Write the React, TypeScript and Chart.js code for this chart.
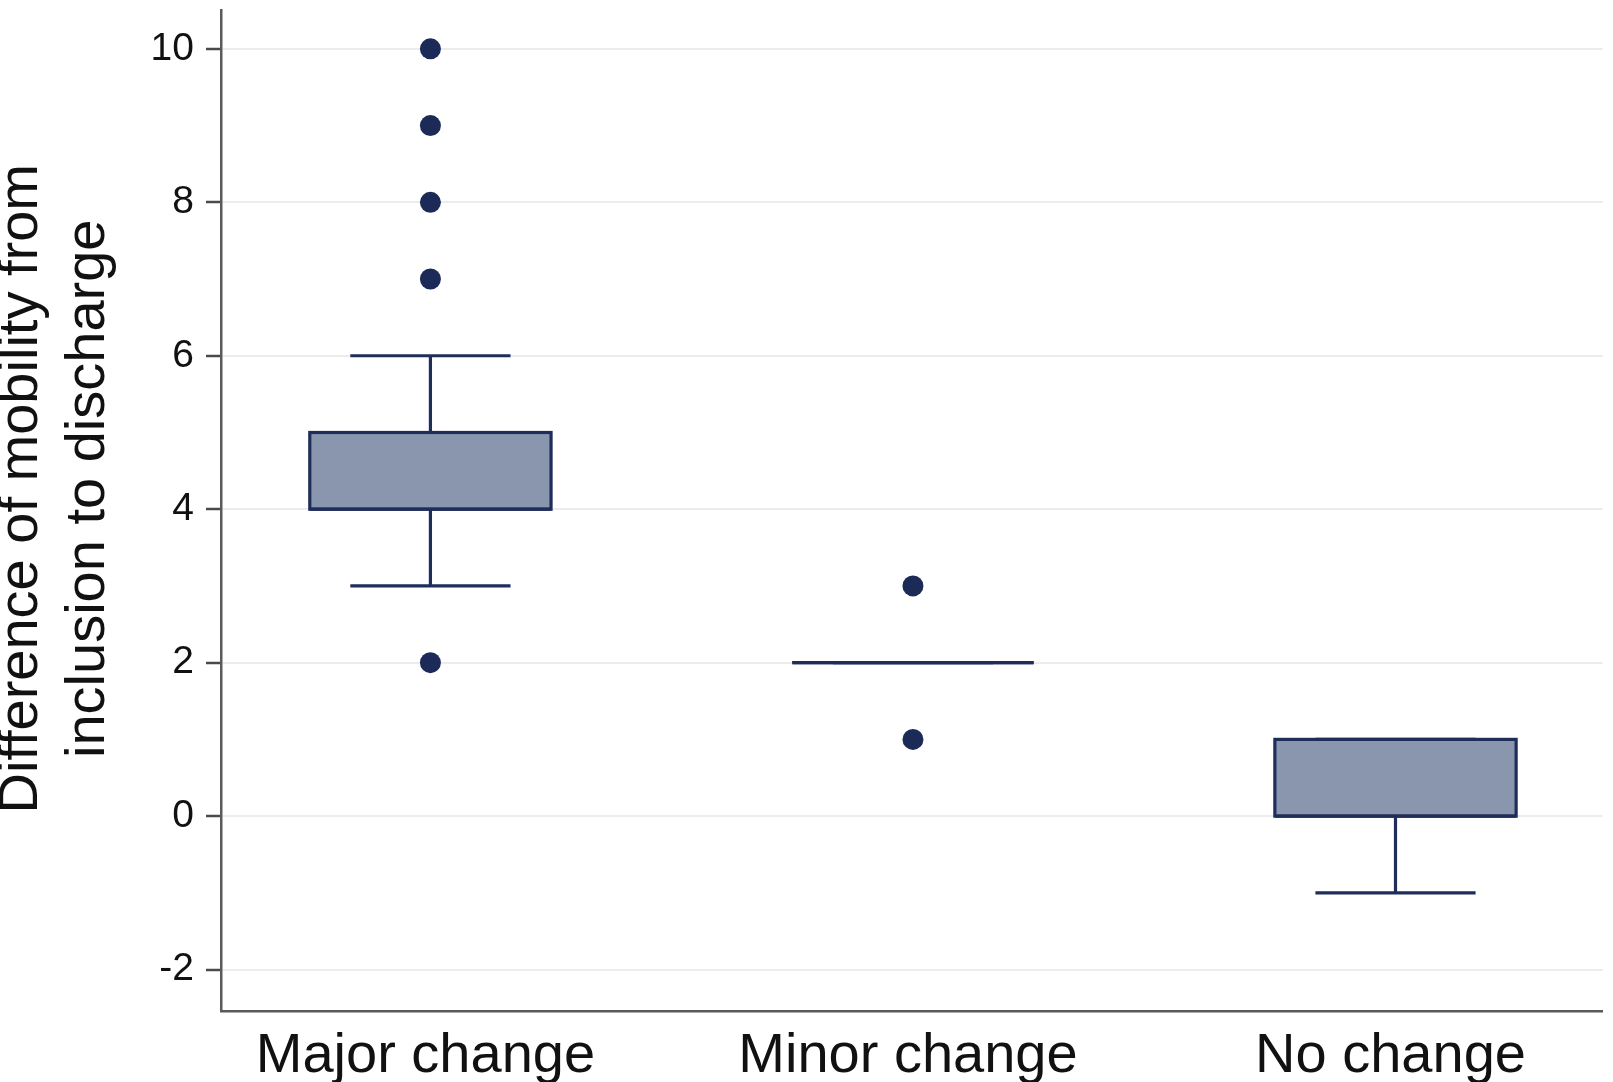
import React, { useEffect, useRef } from "react";
import { Chart, registerables } from "chart.js";

Chart.register(...registerables);

const categories = ["Major change", "Minor change", "No change"];
const whiskerLow = [3, 2, -1];
const q1 = [4, 2, 0];
const median = [4, 2, 0];
const q3 = [5, 2, 1];
const whiskerHigh = [6, 2, 1];
const outliers: number[][] = [[2, 7, 8, 9, 10], [1, 3], []];
const yTicks = [-2, 0, 2, 4, 6, 8, 10];
const yTitle = ["Difference of mobility from", "inclusion to discharge"];

const FONT = "'Liberation Sans', Arial, Helvetica, sans-serif";
const NAVY = "#1f2d5a";
const BOX_FILL = "#8a96ae";
const BOX_HALF = 0.25;
const CAP_HALF = 0.166;

const boxPlugin = {
  id: "boxDraw",
  afterDatasetsDraw(chart: any) {
    const { ctx, scales } = chart;
    const xs = scales.x;
    const ys = scales.y;
    ctx.save();
    ctx.lineWidth = 3.2;
    ctx.strokeStyle = NAVY;
    categories.forEach((_, i) => {
      const c = i + 1;
      const xl = xs.getPixelForValue(c - BOX_HALF);
      const xr = xs.getPixelForValue(c + BOX_HALF);
      const xc = xs.getPixelForValue(c);
      const cl = xs.getPixelForValue(c - CAP_HALF);
      const cr = xs.getPixelForValue(c + CAP_HALF);
      const yq1 = ys.getPixelForValue(q1[i]);
      const yq3 = ys.getPixelForValue(q3[i]);
      const ymed = ys.getPixelForValue(median[i]);
      const ylo = ys.getPixelForValue(whiskerLow[i]);
      const yhi = ys.getPixelForValue(whiskerHigh[i]);
      ctx.beginPath();
      ctx.moveTo(xc, yq1);
      ctx.lineTo(xc, ylo);
      ctx.moveTo(cl, ylo);
      ctx.lineTo(cr, ylo);
      ctx.moveTo(xc, yq3);
      ctx.lineTo(xc, yhi);
      ctx.moveTo(cl, yhi);
      ctx.lineTo(cr, yhi);
      ctx.stroke();
      ctx.fillStyle = BOX_FILL;
      ctx.fillRect(xl, yq3, xr - xl, yq1 - yq3);
      ctx.strokeRect(xl, yq3, xr - xl, yq1 - yq3);
      ctx.beginPath();
      ctx.moveTo(xl, ymed);
      ctx.lineTo(xr, ymed);
      ctx.stroke();
    });
    ctx.restore();
  },
};

const titlePlugin = {
  id: "yTitleDraw",
  afterDraw(chart: any) {
    const { ctx, chartArea } = chart;
    const cy = (chartArea.top + chartArea.bottom) / 2 - 22;
    ctx.save();
    ctx.fillStyle = "#111111";
    ctx.font = `56px ${FONT}`;
    ctx.textAlign = "center";
    ctx.textBaseline = "middle";
    yTitle.forEach((line, i) => {
      ctx.save();
      ctx.translate(22 + i * 67, cy);
      ctx.rotate(-Math.PI / 2);
      ctx.fillText(line, 0, 0);
      ctx.restore();
    });
    ctx.restore();
  },
};

export default function App() {
  const ref = useRef<HTMLCanvasElement | null>(null);
  useEffect(() => {
    if (!ref.current) return;
    const points: { x: number; y: number }[] = [];
    outliers.forEach((arr, i) => arr.forEach((v) => points.push({ x: i + 1, y: v })));
    const chart = new Chart(ref.current, {
      type: "scatter",
      data: {
        datasets: [
          {
            data: points,
            pointRadius: 10.5,
            pointHoverRadius: 10.5,
            pointBackgroundColor: "#1b2a56",
            pointBorderWidth: 0,
            borderColor: "#1b2a56",
          },
        ],
      },
      plugins: [boxPlugin, titlePlugin],
      options: {
        animation: false,
        responsive: false,
        devicePixelRatio: 1,
        events: [],
        layout: { padding: { top: 5, right: 10, left: 0, bottom: 0 } },
        plugins: { legend: { display: false }, tooltip: { enabled: false } },
        scales: {
          x: {
            type: "linear",
            min: 0.566,
            max: 3.429,
            afterFit: (s: any) => {
              s.height = 71;
              s.paddingLeft = 0;
              s.paddingRight = 0;
            },
            afterBuildTicks: (s: any) => {
              s.ticks = categories.map((_, i) => ({ value: i + 1 }));
            },
            ticks: {
              callback: (v: any) => categories[Math.round(Number(v)) - 1] ?? "",
              font: { family: FONT, size: 56 },
              color: "#111111",
              padding: 4,
              labelOffset: -5,
              maxRotation: 0,
              autoSkip: false,
            },
            grid: { display: false },
            border: { display: true, color: "#5a5a5a", width: 2.5 },
          },
          y: {
            min: -2.54,
            max: 10.5,
            afterFit: (s: any) => {
              s.width = 221;
              s.paddingTop = 0;
              s.paddingBottom = 0;
            },
            afterBuildTicks: (s: any) => {
              s.ticks = yTicks.map((v) => ({ value: v }));
            },
            ticks: {
              font: { family: FONT, size: 39 },
              color: "#111111",
              padding: 12,
            },
            grid: {
              color: "#ececec",
              lineWidth: 2,
              tickColor: "#4a4a4a",
              tickLength: 15,
              tickWidth: 2.5,
            },
            border: { display: true, color: "#5a5a5a", width: 2.5 },
          },
        },
      },
    });
    return () => chart.destroy();
  }, []);
  return (
    <div style={{ position: "absolute", left: 0, top: 0, width: 1613, height: 1082, background: "#fff" }}>
      <canvas ref={ref} width={1613} height={1082} />
    </div>
  );
}
